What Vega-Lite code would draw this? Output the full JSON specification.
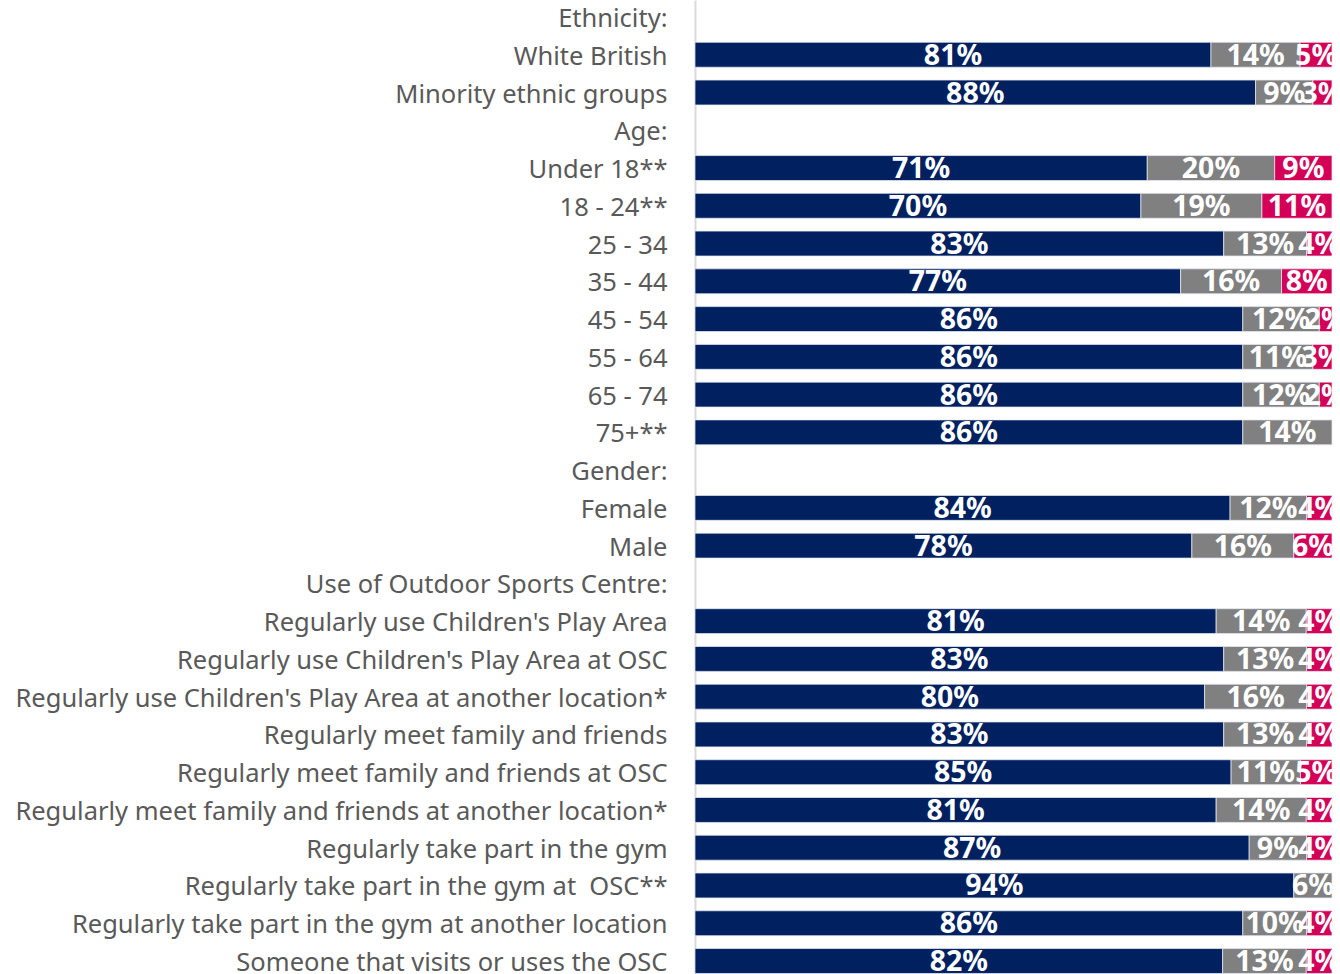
{
  "$schema": "https://vega.github.io/schema/vega-lite/v6.json",
  "width": 637,
  "height": 978,
  "autosize": {"type": "none"},
  "padding": {"left": 695, "top": 0, "right": 8, "bottom": 0},
  "background": "white",
  "config": {"view": {"stroke": null}},
  "data": {
    "values": [
      {"category": "White British", "segment": "Positive", "order": 1, "value": 81},
      {"category": "White British", "segment": "Neutral", "order": 2, "value": 14},
      {"category": "White British", "segment": "Negative", "order": 3, "value": 5},
      {"category": "Minority ethnic groups", "segment": "Positive", "order": 1, "value": 88},
      {"category": "Minority ethnic groups", "segment": "Neutral", "order": 2, "value": 9},
      {"category": "Minority ethnic groups", "segment": "Negative", "order": 3, "value": 3},
      {"category": "Under 18**", "segment": "Positive", "order": 1, "value": 71},
      {"category": "Under 18**", "segment": "Neutral", "order": 2, "value": 20},
      {"category": "Under 18**", "segment": "Negative", "order": 3, "value": 9},
      {"category": "18 - 24**", "segment": "Positive", "order": 1, "value": 70},
      {"category": "18 - 24**", "segment": "Neutral", "order": 2, "value": 19},
      {"category": "18 - 24**", "segment": "Negative", "order": 3, "value": 11},
      {"category": "25 - 34", "segment": "Positive", "order": 1, "value": 83},
      {"category": "25 - 34", "segment": "Neutral", "order": 2, "value": 13},
      {"category": "25 - 34", "segment": "Negative", "order": 3, "value": 4},
      {"category": "35 - 44", "segment": "Positive", "order": 1, "value": 77},
      {"category": "35 - 44", "segment": "Neutral", "order": 2, "value": 16},
      {"category": "35 - 44", "segment": "Negative", "order": 3, "value": 8},
      {"category": "45 - 54", "segment": "Positive", "order": 1, "value": 86},
      {"category": "45 - 54", "segment": "Neutral", "order": 2, "value": 12},
      {"category": "45 - 54", "segment": "Negative", "order": 3, "value": 2},
      {"category": "55 - 64", "segment": "Positive", "order": 1, "value": 86},
      {"category": "55 - 64", "segment": "Neutral", "order": 2, "value": 11},
      {"category": "55 - 64", "segment": "Negative", "order": 3, "value": 3},
      {"category": "65 - 74", "segment": "Positive", "order": 1, "value": 86},
      {"category": "65 - 74", "segment": "Neutral", "order": 2, "value": 12},
      {"category": "65 - 74", "segment": "Negative", "order": 3, "value": 2},
      {"category": "75+**", "segment": "Positive", "order": 1, "value": 86},
      {"category": "75+**", "segment": "Neutral", "order": 2, "value": 14},
      {"category": "Female", "segment": "Positive", "order": 1, "value": 84},
      {"category": "Female", "segment": "Neutral", "order": 2, "value": 12},
      {"category": "Female", "segment": "Negative", "order": 3, "value": 4},
      {"category": "Male\u00a0", "segment": "Positive", "order": 1, "value": 78},
      {"category": "Male\u00a0", "segment": "Neutral", "order": 2, "value": 16},
      {"category": "Male\u00a0", "segment": "Negative", "order": 3, "value": 6},
      {"category": "Regularly use Children's Play Area", "segment": "Positive", "order": 1, "value": 81},
      {"category": "Regularly use Children's Play Area", "segment": "Neutral", "order": 2, "value": 14},
      {"category": "Regularly use Children's Play Area", "segment": "Negative", "order": 3, "value": 4},
      {"category": "Regularly use Children's Play Area at OSC", "segment": "Positive", "order": 1, "value": 83},
      {"category": "Regularly use Children's Play Area at OSC", "segment": "Neutral", "order": 2, "value": 13},
      {"category": "Regularly use Children's Play Area at OSC", "segment": "Negative", "order": 3, "value": 4},
      {"category": "Regularly use Children's Play Area at another location*", "segment": "Positive", "order": 1, "value": 80},
      {"category": "Regularly use Children's Play Area at another location*", "segment": "Neutral", "order": 2, "value": 16},
      {"category": "Regularly use Children's Play Area at another location*", "segment": "Negative", "order": 3, "value": 4},
      {"category": "Regularly meet family and friends", "segment": "Positive", "order": 1, "value": 83},
      {"category": "Regularly meet family and friends", "segment": "Neutral", "order": 2, "value": 13},
      {"category": "Regularly meet family and friends", "segment": "Negative", "order": 3, "value": 4},
      {"category": "Regularly meet family and friends at OSC", "segment": "Positive", "order": 1, "value": 85},
      {"category": "Regularly meet family and friends at OSC", "segment": "Neutral", "order": 2, "value": 11},
      {"category": "Regularly meet family and friends at OSC", "segment": "Negative", "order": 3, "value": 5},
      {"category": "Regularly meet family and friends at another location*", "segment": "Positive", "order": 1, "value": 81},
      {"category": "Regularly meet family and friends at another location*", "segment": "Neutral", "order": 2, "value": 14},
      {"category": "Regularly meet family and friends at another location*", "segment": "Negative", "order": 3, "value": 4},
      {"category": "Regularly take part in the gym", "segment": "Positive", "order": 1, "value": 87},
      {"category": "Regularly take part in the gym", "segment": "Neutral", "order": 2, "value": 9},
      {"category": "Regularly take part in the gym", "segment": "Negative", "order": 3, "value": 4},
      {"category": "Regularly take part in the gym at\u00a0 OSC**", "segment": "Positive", "order": 1, "value": 94},
      {"category": "Regularly take part in the gym at\u00a0 OSC**", "segment": "Neutral", "order": 2, "value": 6},
      {"category": "Regularly take part in the gym at another location", "segment": "Positive", "order": 1, "value": 86},
      {"category": "Regularly take part in the gym at another location", "segment": "Neutral", "order": 2, "value": 10},
      {"category": "Regularly take part in the gym at another location", "segment": "Negative", "order": 3, "value": 4},
      {"category": "Someone that visits or uses the OSC", "segment": "Positive", "order": 1, "value": 82},
      {"category": "Someone that visits or uses the OSC", "segment": "Neutral", "order": 2, "value": 13},
      {"category": "Someone that visits or uses the OSC", "segment": "Negative", "order": 3, "value": 4}
    ]
  },
  "transform": [
    {"stack": "value", "groupby": ["category"], "sort": [{"field": "order", "order": "ascending"}], "offset": "normalize", "as": ["x0", "x1"]},
    {"calculate": "(datum.x0 + datum.x1) / 2", "as": "xm"},
    {"calculate": "datum.value + '%'", "as": "label"}
  ],
  "encoding": {
    "y": {
      "field": "category",
      "type": "nominal",
      "title": null,
      "scale": {
        "domain": [
          "Ethnicity:", "White British", "Minority ethnic groups", "Age:", "Under 18**", "18 - 24**", "25 - 34", "35 - 44", "45 - 54", "55 - 64", "65 - 74", "75+**", "Gender:", "Female", "Male\u00a0", "Use of Outdoor Sports Centre:",
          "Regularly use Children's Play Area", "Regularly use Children's Play Area at OSC", "Regularly use Children's Play Area at another location*",
          "Regularly meet family and friends", "Regularly meet family and friends at OSC", "Regularly meet family and friends at another location*",
          "Regularly take part in the gym", "Regularly take part in the gym at\u00a0 OSC**", "Regularly take part in the gym at another location", "Someone that visits or uses the OSC"
        ],
        "paddingInner": 0.34,
        "paddingOuter": 0.12
      },
      "axis": {
        "ticks": false,
        "grid": false,
        "domainColor": "#d9d9d9",
        "domainWidth": 2,
        "labelFont": "Noto Sans",
        "labelFontSize": 25.5,
        "labelColor": "#595959",
        "labelPadding": 28,
        "labelOffset": 2,
        "labelLimit": 0
      }
    }
  },
  "layer": [
    {
      "mark": {"type": "bar", "stroke": "#e6e9f0", "strokeWidth": 0.75},
      "encoding": {
        "x": {"field": "x0", "type": "quantitative", "scale": {"domain": [0, 1], "nice": false}, "axis": null},
        "x2": {"field": "x1"},
        "color": {
          "field": "segment",
          "type": "nominal",
          "scale": {"domain": ["Positive", "Neutral", "Negative"], "range": ["#002060", "#808080", "#D40058"]},
          "legend": null
        }
      }
    },
    {
      "mark": {"type": "text", "clip": true, "font": "Noto Sans", "fontWeight": "bold", "fontSize": 28.5, "color": "white", "align": "center", "baseline": "middle", "dy": 1},
      "encoding": {
        "x": {"field": "xm", "type": "quantitative"},
        "text": {"field": "label", "type": "nominal"}
      }
    }
  ]
}
